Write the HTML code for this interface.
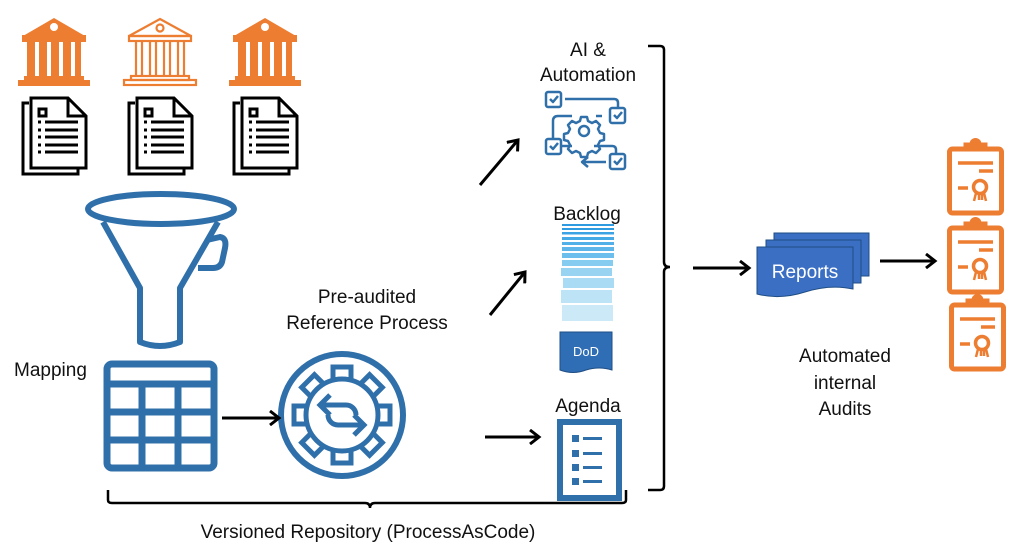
<!DOCTYPE html>
<html><head><meta charset="utf-8"><style>
html,body{margin:0;padding:0;background:#fff;}
svg{display:block}
text{font-family:"Liberation Sans",sans-serif;fill:#111;}
</style></head><body>
<svg width="1024" height="546" viewBox="0 0 1024 546" xmlns="http://www.w3.org/2000/svg">
<defs>
<g id="bank">
  <polygon points="0,0 31,18 -31,18" fill="#ED7D31"/>
  <circle cx="0" cy="9" r="4" fill="#fff"/>
  <rect x="-32" y="17" width="64" height="7" fill="#ED7D31"/>
  <rect x="-27" y="24" width="8" height="35" fill="#ED7D31"/>
  <rect x="-15" y="24" width="8" height="35" fill="#ED7D31"/>
  <rect x="-3" y="24" width="8" height="35" fill="#ED7D31"/>
  <rect x="9" y="24" width="8" height="35" fill="#ED7D31"/>
  <rect x="21" y="24" width="6" height="35" fill="#ED7D31"/>
  <rect x="-30" y="58" width="60" height="4" fill="#ED7D31"/>
  <rect x="-36" y="62" width="72" height="6" fill="#ED7D31"/>
</g>
<g id="doc" fill="#fff" stroke="#000" stroke-width="3">
  <polyline points="7,6 1,6 1,77 56,77 56,72" fill="none"/>
  <path d="M9,1 H46 L64,19 V71 H9 Z"/>
  <path d="M46,1 V19 H64" fill="none"/>
  <rect x="17" y="12" width="7" height="7"/>
  <line x1="16" y1="25" x2="19" y2="25"/><line x1="23" y1="25" x2="56" y2="25"/>
  <line x1="16" y1="33" x2="19" y2="33"/><line x1="23" y1="33" x2="56" y2="33"/>
  <line x1="16" y1="40" x2="19" y2="40"/><line x1="23" y1="40" x2="56" y2="40"/>
  <line x1="16" y1="48" x2="19" y2="48"/><line x1="23" y1="48" x2="56" y2="48"/>
  <line x1="16" y1="55" x2="19" y2="55"/><line x1="23" y1="55" x2="56" y2="55"/>
</g>
<g id="clip" fill="none" stroke="#ED7D31" stroke-width="5">
  <rect x="2.5" y="8" width="52" height="64" rx="3"/>
  <path d="M18,8 V3 H24 A4.5,4.5 0 0 1 33,3 H39 V8 Z" fill="#ED7D31" stroke-width="3"/>
  <line x1="11" y1="22" x2="46" y2="22" stroke-width="3.5"/>
  <line x1="32" y1="30" x2="46" y2="30" stroke-width="3.5"/>
  <line x1="11" y1="47" x2="21" y2="47" stroke-width="3.5"/>
  <circle cx="33" cy="46" r="6.5" stroke-width="3.5"/>
  <path d="M29,52 L27,60 M37,52 L39,60 M32,53 L32,59 M35,53 L35,59" stroke-width="2.5"/>
</g>
<marker id="ah" markerWidth="14" markerHeight="16" refX="11" refY="8" orient="auto" markerUnits="userSpaceOnUse">
  <path d="M2,1 L11,8 L2,15" fill="none" stroke="#000" stroke-width="3"/>
</marker>
</defs>

<!-- banks -->
<use href="#bank" x="54" y="18"/>
<g transform="translate(160,18)" fill="none" stroke="#ED7D31" stroke-width="2.2">
  <polygon points="0,1 31,18 -31,18"/><circle cx="0" cy="10" r="3.5"/>
  <rect x="-31" y="18" width="62" height="5"/>
  <path d="M-24,23 V58 M-18,23 V58 M-10,23 V58 M-4,23 V58 M4,23 V58 M10,23 V58 M18,23 V58 M24,23 V58"/>
  <rect x="-29" y="58" width="58" height="4"/><rect x="-36" y="62" width="72" height="5"/>
</g>
<use href="#bank" x="265" y="18"/>

<!-- docs -->
<use href="#doc" x="22" y="97"/>
<use href="#doc" x="128" y="97"/>
<use href="#doc" x="233" y="97"/>

<!-- funnel -->
<g fill="none" stroke="#3070AA" stroke-width="6" stroke-linejoin="round">
  <ellipse cx="161" cy="209" rx="73" ry="15"/>
  <path d="M103,222 L140,288 V342 Q160,350 180,342 V288 L218,222"/>
  <path d="M207,240 L220,237 Q227,238 225,248 L222,262 Q220,268 213,268 L198,268"/>
</g>
<!-- grid -->
<g fill="none" stroke="#3070AA" stroke-width="7">
  <rect x="107" y="364" width="107" height="104" rx="5"/>
  <line x1="107" y1="384" x2="214" y2="384"/>
  <line x1="107" y1="412" x2="214" y2="412"/>
  <line x1="107" y1="440" x2="214" y2="440"/>
  <line x1="142" y1="384" x2="142" y2="468"/>
  <line x1="178" y1="384" x2="178" y2="468"/>
</g>
<text x="14" y="376" font-size="19">Mapping</text>

<!-- gear circle -->
<g transform="translate(342,415)" stroke="#3070AA" stroke-width="5" fill="#fff">
  <circle r="61" stroke-width="6"/>
  <g>
    <rect x="-9" y="-48" width="18" height="18"/>
    <rect x="-9" y="-48" width="18" height="18" transform="rotate(45)"/>
    <rect x="-9" y="-48" width="18" height="18" transform="rotate(90)"/>
    <rect x="-9" y="-48" width="18" height="18" transform="rotate(135)"/>
    <rect x="-9" y="-48" width="18" height="18" transform="rotate(180)"/>
    <rect x="-9" y="-48" width="18" height="18" transform="rotate(225)"/>
    <rect x="-9" y="-48" width="18" height="18" transform="rotate(270)"/>
    <rect x="-9" y="-48" width="18" height="18" transform="rotate(315)"/>
  </g>
  <circle r="36"/>
  <g fill="none" stroke-width="5">
    <path d="M-20,-10 H4 A10,10 0 0 1 14,0"/>
    <path d="M-12,-20 L-22,-10 L-12,0"/>
    <path d="M20,10 H-4 A10,10 0 0 1 -14,0"/>
    <path d="M12,20 L22,10 L12,0"/>
  </g>
</g>
<text x="367" y="303" font-size="19" text-anchor="middle">Pre-audited</text>
<text x="367" y="329" font-size="19" text-anchor="middle">Reference Process</text>

<!-- arrows -->
<g stroke="#000" stroke-width="3" fill="none" marker-end="url(#ah)">
  <line x1="222" y1="418" x2="279" y2="418"/>
  <line x1="480" y1="185" x2="518" y2="140"/>
  <line x1="490" y1="315" x2="525" y2="272"/>
  <line x1="485" y1="437" x2="539" y2="437"/>
  <line x1="693" y1="268" x2="749" y2="268"/>
  <line x1="880" y1="261" x2="935" y2="261"/>
</g>

<!-- braces -->
<g stroke="#000" stroke-width="2.5" fill="none">
  <path d="M108,490 V500 Q108,503 112,503 H365 Q370,503 370,508 Q370,503 375,503 H622 Q626,503 626,500 V490"/>
  <path d="M648,46 H660 Q664,46 664,50 V262 Q664,267 670,267 Q664,267 664,272 V486 Q664,490 660,490 H648"/>
</g>
<text x="368" y="538" font-size="19" text-anchor="middle">Versioned Repository (ProcessAsCode)</text>

<!-- AI & Automation -->
<text x="588" y="56" font-size="19" text-anchor="middle">AI &amp;</text>
<text x="588" y="81" font-size="19" text-anchor="middle">Automation</text>
<g transform="translate(530,85)" fill="none" stroke="#3070AA" stroke-width="2.5" stroke-linejoin="round">
  <rect x="16" y="7" width="15" height="15" rx="2"/><path d="M20,14 l3,3 l5,-6"/>
  <rect x="80" y="23" width="15" height="15" rx="2"/><path d="M84,30 l3,3 l5,-6"/>
  <rect x="16" y="54" width="15" height="15" rx="2"/><path d="M20,61 l3,3 l5,-6"/>
  <rect x="80" y="69" width="15" height="15" rx="2"/><path d="M84,76 l3,3 l5,-6"/>
  <path d="M35,14 H84 Q88,14 88,18 V23"/>
  <path d="M23,54 V36 Q23,31 28,31 H42"/>
  <path d="M31,61 H42"/><path d="M66,31 H72"/>
  <path d="M64,61 H82 Q86,61 86,65 V69"/>
  <path d="M76,77 H53 M58,72 L52,77 L58,82"/>
  <circle cx="54" cy="46" r="5"/>
  <path d="M51,32 h6 l1,4 l4,2 l4,-2 l4,4 l-2,4 l2,4 l4,1 v6 l-4,1 l-2,4 l2,4 l-4,4 l-4,-2 l-4,2 l-1,4 h-6 l-1,-4 l-4,-2 l-4,2 l-4,-4 l2,-4 l-2,-4 l-4,-1 v-6 l4,-1 l2,-4 l-2,-4 l4,-4 l4,2 l4,-2 z"/>
</g>

<!-- Backlog -->
<text x="587" y="220" font-size="19" text-anchor="middle">Backlog</text>
<g>
  <rect x="562" y="224" width="52" height="2" fill="#2E9BE0"/>
  <rect x="562" y="228" width="52" height="2" fill="#2E9BE0"/>
  <rect x="562" y="232" width="52" height="2.5" fill="#3BA3E3"/>
  <rect x="562" y="237" width="52" height="3" fill="#45A9E6"/>
  <rect x="562" y="242" width="52" height="3" fill="#52B0E8"/>
  <rect x="562" y="247" width="52" height="4" fill="#5DB5EA"/>
  <rect x="562" y="253" width="52" height="5" fill="#6CBEEC"/>
  <rect x="562" y="260" width="51" height="6" fill="#86CBF0"/>
  <rect x="561" y="268" width="51" height="8" fill="#98D3F2"/>
  <rect x="563" y="278" width="51" height="10" fill="#A9DBF4"/>
  <rect x="561" y="290" width="51" height="13" fill="#BDE3F6"/>
  <rect x="562" y="305" width="51" height="16" fill="#CCE9F8"/>
</g>
<path d="M560,332 H612 V370 Q599,366 586,370 Q573,375 560,370 Z" fill="#2F6DB5" stroke="#1F4E85" stroke-width="1"/>
<text x="586" y="356" font-size="13" text-anchor="middle" style="fill:#fff">DoD</text>

<!-- Agenda -->
<text x="588" y="412" font-size="19" text-anchor="middle">Agenda</text>
<g fill="#3070AA">
  <rect x="560" y="422" width="59" height="76" fill="none" stroke="#3070AA" stroke-width="6"/>
  <rect x="572" y="435" width="7" height="7"/><rect x="583" y="437" width="19" height="3"/>
  <rect x="572" y="450" width="7" height="7"/><rect x="583" y="452" width="19" height="3"/>
  <rect x="572" y="464" width="7" height="7"/><rect x="583" y="466" width="19" height="3"/>
  <rect x="572" y="478" width="7" height="7"/><rect x="583" y="480" width="19" height="3"/>
</g>

<!-- Reports -->
<g stroke="#1F4E85" stroke-width="1" fill="#3B6FC4">
  <path d="M774,233 H869 V276 H774 Z"/>
  <path d="M766,240 H861 V283 H766 Z"/>
  <path d="M757,247 H853 V289 Q830,284 805,292 Q780,300 757,294 Z"/>
</g>
<text x="805" y="278" font-size="19" text-anchor="middle" style="fill:#fff">Reports</text>

<!-- clipboards -->
<use href="#clip" x="947" y="141"/>
<use href="#clip" x="947" y="220"/>
<use href="#clip" x="949" y="297"/>

<text x="845" y="362" font-size="19" text-anchor="middle">Automated</text>
<text x="845" y="389" font-size="19" text-anchor="middle">internal</text>
<text x="845" y="415" font-size="19" text-anchor="middle">Audits</text>
</svg>
</body></html>
